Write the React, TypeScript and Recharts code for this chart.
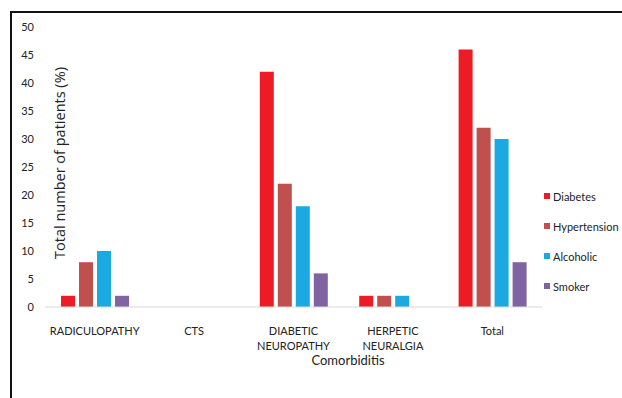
import { BarChart, Bar, XAxis, YAxis } from "recharts";

const categories = ["RADICULOPATHY", "CTS", "DIABETIC\nNEUROPATHY", "HERPETIC\nNEURALGIA", "Total"];
const diabetes = [2, 0, 42, 2, 46];
const hypertension = [8, 0, 22, 2, 32];
const alcoholic = [10, 0, 18, 2, 30];
const smoker = [2, 0, 6, 0, 8];
const yTicks = [0, 5, 10, 15, 20, 25, 30, 35, 40, 45, 50];

const series = [
  { key: "diabetes", name: "Diabetes", color: "#ED1C24" },
  { key: "hypertension", name: "Hypertension", color: "#C0504D" },
  { key: "alcoholic", name: "Alcoholic", color: "#1AA9E0" },
  { key: "smoker", name: "Smoker", color: "#8064A2" },
];

const data = categories.map((c, i) => ({
  category: c,
  diabetes: diabetes[i],
  hypertension: hypertension[i],
  alcoholic: alcoholic[i],
  smoker: smoker[i],
}));

const FONT = "Lato, 'Open Sans', sans-serif";

function CategoryTick({ x, y, payload }: any) {
  const lines = String(payload.value).split("\n");
  return (
    <text x={x} y={y} textAnchor="middle" fontFamily={FONT} fontSize={11} fill="#222">
      {lines.map((l, i) => (
        <tspan key={i} x={x} dy={i === 0 ? 20 : 15}>
          {l}
        </tspan>
      ))}
    </text>
  );
}

// legend sits outside the svg so it doesn't eat into the plot width
function LegendBox() {
  return (
    <div style={{ position: "absolute", left: 544, top: 181, fontFamily: FONT, fontSize: 11, color: "#222" }}>
      {series.map((s) => (
        <div key={s.key} style={{ display: "flex", alignItems: "center", height: 30 }}>
          <span style={{ width: 6, height: 6, background: s.color, marginRight: 3 }} />
          {s.name}
        </div>
      ))}
    </div>
  );
}

export default function App() {
  return (
    <div style={{ position: "absolute", left: 0, top: 0, width: 622, height: 398, background: "#fff", overflow: "hidden" }}>
      <div style={{ position: "absolute", left: 10, top: 11, width: 640, height: 1.5, background: "#111" }} />
      <div style={{ position: "absolute", left: 10, top: 11, width: 1.5, height: 400, background: "#111" }} />
      <BarChart
        width={622}
        height={398}
        data={data}
        margin={{ top: 27, right: 80, left: 0, bottom: 31 }}
        barSize={14}
        barGap={4}
      >
        <XAxis
          dataKey="category"
          axisLine={{ stroke: "#d9d9d9" }}
          tickLine={false}
          height={60}
          interval={0}
          tick={<CategoryTick />}
        />
        <YAxis
          domain={[0, 50]}
          ticks={yTicks}
          width={45}
          axisLine={false}
          tickLine={false}
          tickMargin={5}
          tick={{ fill: "#222", fontSize: 11, fontFamily: FONT }}
          label={{
            value: "Total number of patients (%)",
            angle: -90,
            position: "center",
            dx: 37,
            dy: -4,
            style: { fill: "#222", fontSize: 14.5, fontFamily: "'Open Sans', sans-serif", textAnchor: "middle" },
          }}
        />
        {series.map((s) => (
          <Bar key={s.key} dataKey={s.key} name={s.name} fill={s.color} isAnimationActive={false} />
        ))}
      </BarChart>
      <LegendBox />
      <div
        style={{
          position: "absolute",
          left: 348,
          top: 352,
          transform: "translateX(-50%)",
          fontFamily: FONT,
          fontSize: 13,
          color: "#222",
        }}
      >
        Comorbiditis
      </div>
    </div>
  );
}
